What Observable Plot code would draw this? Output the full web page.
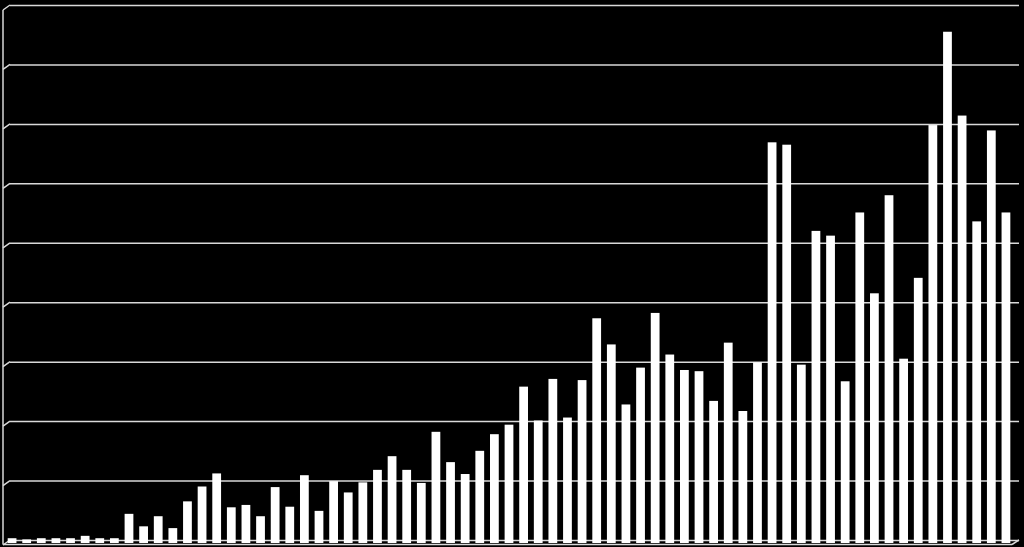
<!DOCTYPE html>
<html><head><meta charset="utf-8">
<script src="https://cdn.jsdelivr.net/npm/d3@7"></script>
<script src="https://cdn.jsdelivr.net/npm/@observablehq/plot@0.6"></script>
<style>html,body{margin:0;padding:0;background:#000;overflow:hidden}#chart svg{display:block}</style>
</head><body><div id="chart"></div>
<script>
// Categories (no labels are shown in the reference)
const categories = ["1","2","3","4","5","6","7","8","9","10","11","12","13","14","15","16","17","18","19","20",
  "21","22","23","24","25","26","27","28","29","30","31","32","33","34","35","36","37","38","39","40",
  "41","42","43","44","45","46","47","48","49","50","51","52","53","54","55","56","57","58","59","60",
  "61","62","63","64","65","66","67","68","69"];
// Values in gridline units
const values = [0.03,0.01,0.03,0.03,0.03,0.07,0.03,0.03,
  0.44,0.23,0.40,0.20,0.65,0.90,1.12,0.55,0.59,0.40,0.89,0.56,1.09,0.49,0.99,
  0.80,0.97,1.18,1.41,1.18,0.96,1.82,1.31,1.11,1.50,1.78,1.94,2.58,2.01,2.71,2.06,2.69,3.73,3.29,2.28,2.90,3.82,3.12,
  2.86,2.84,2.34,3.32,2.17,2.99,6.69,6.65,2.95,5.20,5.12,2.67,5.51,4.15,5.80,3.05,4.41,6.98,8.55,7.14,5.36,6.89,5.51];
const gridTicks = [0,1,2,3,4,5,6,7,8,9];

const data = categories.map((c, i) => ({cat: c, value: values[i]}));
const gridColor = "#d9d9d9";

// 3D-style wall/floor edges, positioned via the y scale and plot dimensions
function walls(index, scales, vals, dimensions) {
  const y = scales.y;
  const {width, marginLeft, marginRight} = dimensions;
  const x0 = marginLeft, xr = width - marginRight;
  const g = d3.create("svg:g").attr("stroke", gridColor).attr("stroke-width", 1.5).attr("fill", "none");
  for (const t of gridTicks) {
    g.append("line").attr("x1", x0).attr("y1", y(t) + 5).attr("x2", x0 + 7).attr("y2", y(t));
  }
  const top = gridTicks[gridTicks.length - 1];
  g.append("line").attr("x1", x0).attr("y1", y(top) + 5).attr("x2", x0).attr("y2", y(0) + 4.5);
  g.append("line").attr("x1", x0).attr("y1", y(0) + 4.5).attr("x2", xr - 3).attr("y2", y(0) + 4.5);
  g.append("line").attr("x1", xr - 3).attr("y1", y(0) + 4.5).attr("x2", xr + 4).attr("y2", y(0));
  return g.node();
}

const chart = Plot.plot({
  width: 1024,
  height: 547,
  marginTop: 5,
  marginBottom: 7,
  marginLeft: 3,
  marginRight: 9,
  style: {background: "#000", color: "#fff"},
  x: {type: "band", domain: categories, paddingInner: 0.4, paddingOuter: 0.32, axis: null},
  y: {domain: [0, 9], axis: null},
  marks: [
    Plot.ruleY(gridTicks, {stroke: gridColor, strokeWidth: 1.5, insetLeft: 7, insetRight: -4}),
    walls,
    Plot.barY(data, {x: "cat", y: "value", fill: "#fff", insetBottom: -3})
  ]
});
document.getElementById("chart").append(chart);
</script>
</body></html>
